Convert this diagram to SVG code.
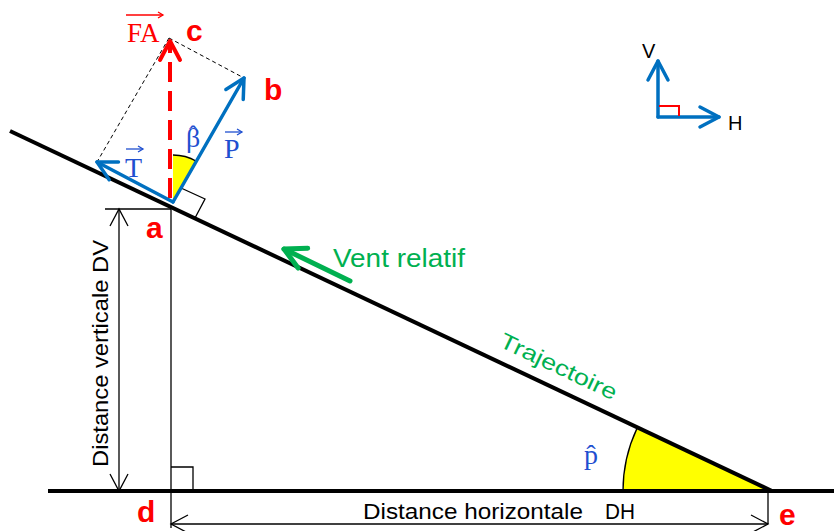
<svg xmlns="http://www.w3.org/2000/svg" width="834" height="531" viewBox="0 0 834 531">
<defs>
<style>
.thin{stroke:#000;stroke-width:1.3;fill:none}
.thick{stroke:#000;stroke-width:4;fill:none}
.lbl{font-family:"Liberation Sans",Arial,sans-serif;font-weight:bold;font-size:30px;fill:#FF0000}
.sans{font-family:"Liberation Sans",Arial,sans-serif;fill:#000}
.serif{font-family:"Liberation Serif","Times New Roman",serif}
.vec{stroke:#0070C0;stroke-width:3.5;fill:none;stroke-linecap:round}
.lab{fill:#1F4FD0}
</style>
<marker id="mBlue" markerUnits="userSpaceOnUse" markerWidth="40" markerHeight="40" viewBox="-30 -20 40 40" refX="0" refY="0" orient="auto">
<path d="M-19,-10 L0,0 L-19,10" fill="none" stroke="#0070C0" stroke-width="3.5" stroke-linecap="round" stroke-linejoin="round"/>
</marker>
<marker id="mRed" markerUnits="userSpaceOnUse" markerWidth="40" markerHeight="40" viewBox="-30 -20 40 40" refX="0" refY="0" orient="auto">
<path d="M-19,-10 L0,0 L-19,10" fill="none" stroke="#FF0000" stroke-width="4" stroke-linecap="round" stroke-linejoin="round"/>
</marker>
<marker id="mGreen" markerUnits="userSpaceOnUse" markerWidth="40" markerHeight="40" viewBox="-30 -20 40 40" refX="0" refY="0" orient="auto">
<path d="M-21,-11 L0,0 L-21,11" fill="none" stroke="#00B050" stroke-width="5" stroke-linecap="round" stroke-linejoin="round"/>
</marker>
<marker id="mBlack" markerUnits="userSpaceOnUse" markerWidth="40" markerHeight="40" viewBox="-30 -20 40 40" refX="0" refY="0" orient="auto-start-reverse">
<path d="M-17,-9 L0,0 L-17,9" fill="none" stroke="#000" stroke-width="1.3"/>
</marker>
<marker id="mSmallRed" markerUnits="userSpaceOnUse" markerWidth="12" markerHeight="12" viewBox="-8 -6 12 12" refX="0" refY="0" orient="auto">
<path d="M-5,-3 L0,0 L-5,3" fill="none" stroke="#FF0000" stroke-width="1.3"/>
</marker>
<marker id="mSmallBlue" markerUnits="userSpaceOnUse" markerWidth="12" markerHeight="12" viewBox="-8 -6 12 12" refX="0" refY="0" orient="auto">
<path d="M-5,-3 L0,0 L-5,3" fill="none" stroke="#1F4FD0" stroke-width="1.3"/>
</marker>
</defs>
<rect width="834" height="531" fill="#fff"/>

<g id="angles">
<path d="M770,491 L623,491 A147,147 0 0,1 637.1,428.1 Z" fill="#FFFF00"/>
<path d="M623,491 A147,147 0 0,1 637.1,428.1" class="thin"/>
<path d="M173,202 L173,155 A47,47 0 0,1 196.4,161.2 Z" fill="#FFFF00"/>
<path d="M173,155 A47,47 0 0,1 196.4,161.2" class="thin"/>
</g>

<g id="connectors">
<line id="trajectoire-line" x1="10" y1="131" x2="772" y2="491" class="thick"/>
<line id="ground" x1="48" y1="491" x2="834" y2="491" class="thick"/>
<line x1="171" y1="207" x2="171" y2="528" class="thin"/>
<line x1="105" y1="209" x2="171" y2="209" class="thin"/>
<line x1="119" y1="209" x2="119" y2="491" class="thin" marker-start="url(#mBlack)" marker-end="url(#mBlack)"/>
<line x1="171" y1="524" x2="768" y2="524" class="thin" marker-start="url(#mBlack)" marker-end="url(#mBlack)"/>
<line x1="768" y1="491" x2="768" y2="524" class="thin"/>
<polyline points="171,467 193,467 193,491" class="thin"/>
<polyline points="181,188 205,199 195,218" class="thin"/>
<line x1="169" y1="38" x2="244" y2="78" stroke="#000" stroke-width="1" stroke-dasharray="4 3"/>
<line x1="169" y1="38" x2="97" y2="162" stroke="#000" stroke-width="1" stroke-dasharray="4 3"/>
<line x1="170" y1="198" x2="170" y2="41" stroke="#FF0000" stroke-width="4" stroke-dasharray="20 9" marker-end="url(#mRed)"/>
<line x1="173" y1="202" x2="244" y2="78" class="vec" marker-end="url(#mBlue)"/>
<line x1="173" y1="202" x2="97" y2="162" class="vec" marker-end="url(#mBlue)"/>
<line x1="350" y1="281" x2="284" y2="249" stroke="#00B050" stroke-width="5" stroke-linecap="round" marker-end="url(#mGreen)"/>
</g>

<g id="axes">
<line x1="658" y1="117" x2="658" y2="61" class="vec" stroke-width="3" marker-end="url(#mBlue)"/>
<line x1="658" y1="117" x2="719" y2="117" class="vec" stroke-width="3" marker-end="url(#mBlue)"/>
<polyline points="659,106 679,106 679,116" fill="none" stroke="#FF0000" stroke-width="2"/>
<text x="642" y="58" class="sans" font-size="20">V</text>
<text x="728" y="130" class="sans" font-size="20">H</text>
</g>

<g id="node-a"><text x="146" y="238" class="lbl">a</text></g>
<g id="node-b"><text x="264" y="100" class="lbl">b</text></g>
<g id="node-c"><text x="186" y="41" class="lbl">c</text></g>
<g id="node-d"><text x="137" y="522" class="lbl">d</text></g>
<g id="node-e"><text x="779" y="525" class="lbl">e</text></g>

<g id="label-FA">
<text x="127" y="42" class="serif" font-size="27" fill="#FF0000">FA</text>
<line x1="126" y1="15" x2="163" y2="15" stroke="#FF0000" stroke-width="1.3" marker-end="url(#mSmallRed)"/>
</g>
<g id="label-P">
<text x="224" y="158" class="serif lab" font-size="28">P</text>
<line x1="225" y1="132" x2="242" y2="132" stroke="#1F4FD0" stroke-width="1.3" marker-end="url(#mSmallBlue)"/>
</g>
<g id="label-T">
<text x="125" y="177" class="serif lab" font-size="28">T</text>
<line x1="126" y1="149" x2="143" y2="149" stroke="#1F4FD0" stroke-width="1.3" marker-end="url(#mSmallBlue)"/>
</g>
<g id="label-beta">
<text class="serif lab" font-size="28"><tspan x="186" y="147">β</tspan><tspan x="193" y="142" font-size="24" text-anchor="middle">ˆ</tspan></text>
</g>
<g id="label-p">
<text x="584" y="464" class="serif lab" font-size="28">p̂</text>
</g>

<g id="label-vent">
<text x="333" y="267" font-family="Liberation Sans, Arial, sans-serif" font-size="25" fill="#00B050" textLength="132" lengthAdjust="spacingAndGlyphs">Vent relatif</text>
</g>
<g id="label-trajectoire">
<text transform="translate(498,346) rotate(25.35)" font-family="Liberation Sans, Arial, sans-serif" font-size="22" fill="#00B050" textLength="127" lengthAdjust="spacingAndGlyphs">Trajectoire</text>
</g>
<g id="label-DV">
<text transform="translate(108,467) rotate(-90)" class="sans" font-size="22" textLength="227" lengthAdjust="spacingAndGlyphs">Distance verticale DV</text>
</g>
<g id="label-DH">
<text x="363" y="519" class="sans" font-size="22" textLength="220" lengthAdjust="spacingAndGlyphs">Distance horizontale</text>
<text x="605" y="519" class="sans" font-size="22" textLength="30" lengthAdjust="spacingAndGlyphs">DH</text>
</g>
</svg>
